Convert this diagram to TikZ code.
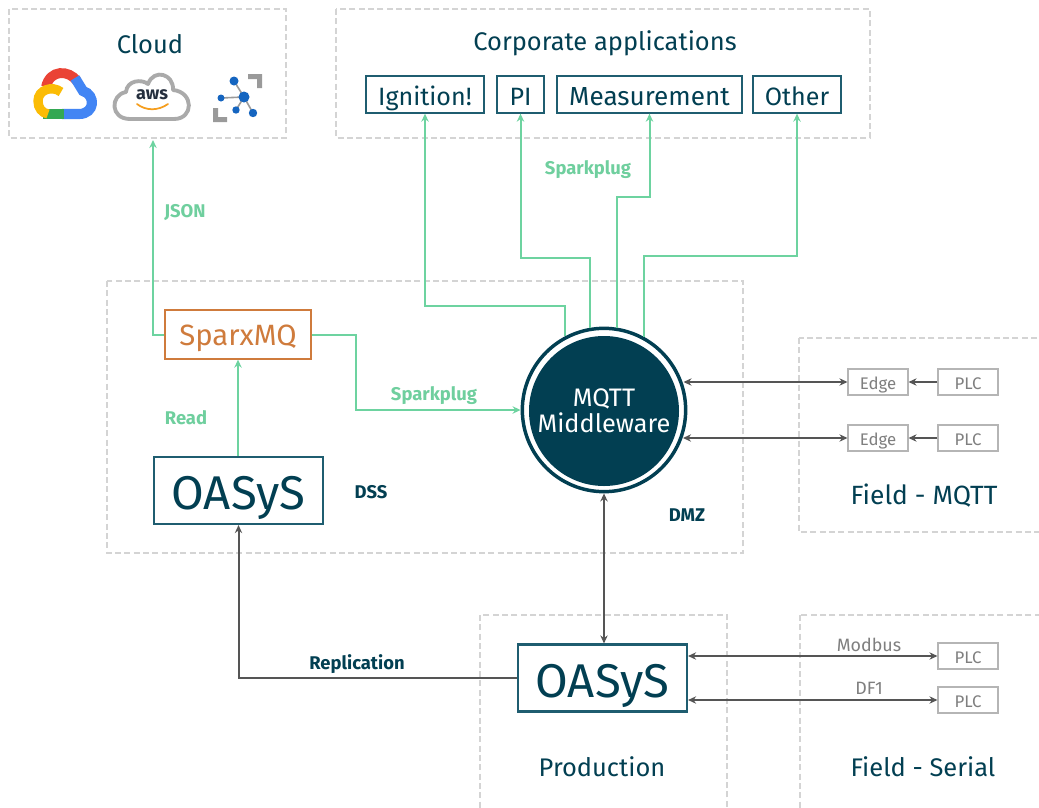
\documentclass[tikz,border=0pt]{standalone}
\usepackage{fontspec}
\setmainfont{Fira Sans}
\usetikzlibrary{arrows.meta}
\definecolor{teal}{HTML}{023F52}
\definecolor{tealb}{HTML}{1F5D70}
\definecolor{mint}{HTML}{6DD3A0}
\definecolor{mintt}{HTML}{6FCF9E}
\definecolor{gline}{HTML}{555555}
\definecolor{dashc}{HTML}{D4D4D4}
\definecolor{orng}{HTML}{CF7B3C}
\definecolor{gtxt}{HTML}{7F7F7F}
\definecolor{gbox}{HTML}{B5B5B5}
\definecolor{iotblue}{HTML}{1565C0}
\definecolor{iotgrey}{HTML}{9A9A9A}
\newcommand{\pxf}[1]{\fontsize{#1}{#1}\selectfont}
\tikzset{
  x=0.75pt,y=-0.75pt,
  zone/.style={draw=dashc,line width=1.1pt,dash pattern=on 4.5pt off 2.5pt},
  zonelabel/.style={text=teal,font=\pxf{19.1}},
  appbox/.style={draw=tealb,line width=1pt,text=teal,font=\pxf{18.8},inner sep=0pt,minimum height=27.75pt,text height=18pt,text depth=2.2pt},
  oasys/.style={draw=tealb,line width=1.6pt,text=teal,font=\pxf{35.5},inner sep=0pt,minimum width=126.75pt,minimum height=50.25pt,text height=31pt,text depth=2pt},
  smallbox/.style={draw=gbox,line width=.8pt,text=gtxt,font=\pxf{12.6},inner sep=0pt,minimum width=45pt,minimum height=19.5pt,text height=11.5pt,text depth=.5pt},
  greenlink/.style={draw=mint,line width=1.5pt,-{Stealth[length=6pt,width=5.5pt]}},
  greylink/.style={draw=gline,line width=1.5pt,-{Stealth[length=6pt,width=5.5pt]}},
  greyboth/.style={draw=gline,line width=1.5pt,{Stealth[length=6pt,width=5.5pt]}-{Stealth[length=6pt,width=5.5pt]}},
  greenlabel/.style={text=mintt,font=\bfseries\pxf{13.8}},
  darklabel/.style={text=teal,font=\bfseries\pxf{13.8}},
  greytext/.style={text=gtxt,font=\pxf{13.4}},
}
\begin{document}
\begin{tikzpicture}
\clip (0,0) rectangle (1039,807);
\fill[white] (0,0) rectangle (1039,807);
% zones
\draw[zone] (9,9) rectangle (286,138);
\draw[zone] (336,9) rectangle (870,138);
\draw[zone] (107,281) rectangle (743,553);
\draw[zone] (799,338) rectangle (1060,532);
\draw[zone] (480,615) rectangle (727,830);
\draw[zone] (800,615) rectangle (1060,830);
% titles
\node[zonelabel] (cloudt) at (150,44) {Cloud};
\node[zonelabel] (corpt) at (605,43) {Corporate applications};
\node[zonelabel,font=\pxf{19.8}] (fmq) at (924,496) {Field - MQTT};
\node[zonelabel] (prod) at (602,767) {Production};
\node[zonelabel] (fser) at (923,767) {Field - Serial};
% app boxes
\node[appbox,minimum width=88.5pt] (ign) at (425,94.5) {Ignition!};
\node[appbox,minimum width=35.25pt] (pi) at (520.5,94.5) {PI};
\node[appbox,minimum width=138.75pt,font=\pxf{19.6}] (meas) at (649.5,94.5) {Measurement};
\node[appbox,minimum width=66pt] (oth) at (797,94.5) {Other};
% central
\node[draw=orng,line width=1pt,text=orng,font=\pxf{22},inner sep=0pt,minimum width=109.5pt,minimum height=36.75pt,text height=17pt,text depth=.5pt] (sparx) at (238,334.5) {SparxMQ};
\node[oasys] (oa1) at (238.5,490.5) {OASyS};
\node[oasys] (oa2) at (602.5,678) {OASyS};
\node[circle,draw=teal,line width=2.6pt,inner sep=0pt,minimum size=122.5pt] (mw) at (604,410) {};
\node[circle,fill=teal,inner sep=0pt,minimum size=112.5pt,text=white,font=\fontsize{19}{19.5}\selectfont,align=center] (mwi) at (604,411) {MQTT\\Middleware};
% small boxes
\node[smallbox] (e1) at (878,382) {Edge};
\node[smallbox] (e2) at (878,438) {Edge};
\node[smallbox] (p1) at (968,382) {PLC};
\node[smallbox] (p2) at (968,438) {PLC};
\node[smallbox] (p3) at (968,656) {PLC};
\node[smallbox] (p4) at (968,700) {PLC};
% green links
\coordinate (yign) at (0,306);
\coordinate (ypi) at (0,258);
\coordinate (ymeas) at (0,197);
\coordinate (yoth) at (0,256);
\coordinate (xsp) at (356,0);
\draw[greenlink] (mw.118) -- (mw.118 |- yign) -| (ign.south);
\draw[greenlink] (mw.100) -- (mw.100 |- ypi) -| (pi.south);
\draw[greenlink] (mw.81) -- (mw.81 |- ymeas) -| (meas.south);
\draw[greenlink] (mw.61) -- (mw.61 |- yoth) -| (oth.south);
\coordinate (cloudin) at (153,140);
\draw[greenlink] (sparx.west) -| (cloudin);
\draw[greenlink] (sparx.east) -| (xsp |- mw.west) -- (mw.west);
\draw[greenlink] (oa1.north -| sparx.south) -- (sparx.south);
% grey links
\draw[greylink] (oa2.west) -| (oa1.south);
\draw[greyboth] (mw.south) -- (mw.south |- oa2.north);
\draw[greyboth] (mw.center |- e1.west) ++(79.5,0) coordinate (m1) (m1) -- (e1.west);
\draw[greyboth] (mw.center |- e2.west) ++(79,0) coordinate (m2) (m2) -- (e2.west);
\draw[greylink] (p1.west) -- (e1.east);
\draw[greylink] (p2.west) -- (e2.east);
\draw[greyboth] (oa2.east |- p3.west) -- (p3.west);
\draw[greyboth] (oa2.east |- p4.west) -- (p4.west);
% labels
\node[greenlabel] (lj) at (185,213) {JSON};
\node[greenlabel] (ls1) at (588,170) {Sparkplug};
\node[greenlabel] (ls2) at (434,396) {Sparkplug};
\node[greenlabel] (lr) at (186,418) {Read};
\node[darklabel] (lrep) at (357,664) {Replication};
\node[darklabel] (ldss) at (371,492) {DSS};
\node[darklabel] (ldmz) at (687,515) {DMZ};
\node[greytext] (lmod) at (869,645) {Modbus};
\node[greytext] (ldf) at (869,688) {DF1};
% Google Cloud icon
\draw[line width=7.4pt,draw={rgb,255:red,234;green,67;blue,53}] (46,87) .. controls (50,69) and (69,70) .. (77,81);
\draw[line width=7.6pt,draw={rgb,255:red,66;green,133;blue,244}] (75,78) -- (83,91) .. controls (96,95) and (95,114) .. (79,114) -- (62,114);
\draw[line width=8pt,draw={rgb,255:red,52;green,168;blue,83}] (64,114) -- (43,114);
\draw[line width=7pt,draw={rgb,255:red,251;green,188;blue,5}] (61,92) .. controls (52,85) and (38,90) .. (38,101) .. controls (38,108) and (42,113) .. (48,114);
% AWS icon
\draw[line width=2.9pt,draw={rgb,255:red,170;green,170;blue,170},line join=round,fill=white] (130,119) .. controls (110,119) and (110,95) .. (126,92) .. controls (127,80) and (142,79) .. (148,84) .. controls (154,68) and (174,74) .. (173,90) .. controls (194,92) and (194,119) .. (174,119) -- cycle;
\node[inner sep=0pt,font=\bfseries\pxf{13.5},text={rgb,255:red,37;green,47;blue,62}] (awst) at (152,95) {aws};
\draw[line width=1.3pt,draw={rgb,255:red,245;green,158;blue,30},line cap=round] (137,104) .. controls (146,111) and (158,111) .. (168,104);
% IoT icon
\fill[iotgrey] (248,74) -- (262,74) -- (262,88) -- (257,88) -- (257,79) -- (248,79) -- cycle;
\fill[iotgrey] (213,108) -- (218,108) -- (218,117) -- (227,117) -- (227,122) -- (213,122) -- cycle;
\draw[iotgrey,line width=1.2pt] (244,97) -- (234,81) (244,97) -- (221,98) (244,97) -- (236,110) (244,97) -- (253,113);
\fill[iotblue] (244,97) circle (5.5) (234,81) circle (4.5) (221,98) circle (3.5) (236,110) circle (3.7) (253,113) circle (4.2);
\end{tikzpicture}
\end{document}
